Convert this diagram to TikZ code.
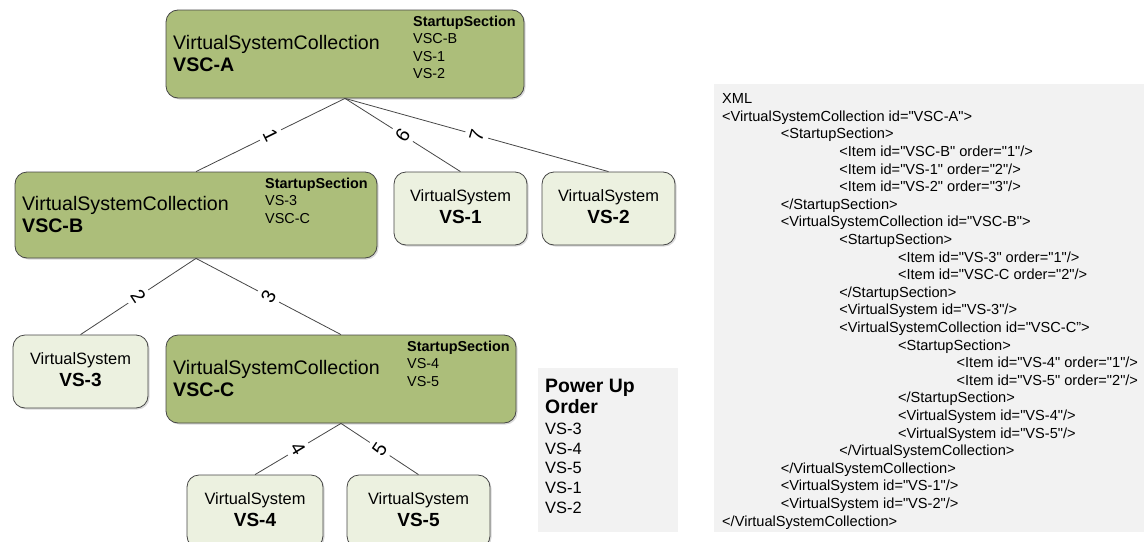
\documentclass[tikz,border=0pt]{standalone}
\usepackage{fontspec}
\setmainfont{Liberation Sans}
\newfontfamily\xmlfont{Liberation Sans}
\usetikzlibrary{shadows}
\definecolor{vscfill}{RGB}{172,190,122}
\definecolor{vsfill}{RGB}{236,241,224}
\definecolor{boxline}{RGB}{70,70,70}
\definecolor{notefill}{RGB}{242,242,242}
\tikzset{
    vsc/.style={draw=boxline, fill=vscfill, rounded corners=12pt, line width=0.8pt, inner sep=0pt,
        drop shadow={shadow xshift=1.5pt, shadow yshift=-1.5pt, opacity=0.3}},
    vs/.style={vsc, fill=vsfill},
    note/.style={fill=notefill, inner sep=0pt},
    link/.style={draw=boxline, line width=0.8pt},
    order/.style={fill=white, inner xsep=3pt, inner ysep=5pt, font=\fontsize{19.5}{19.5}\selectfont},
    vsctitle/.style={anchor=base west, inner sep=0pt, font=\fontsize{19.6}{22}\selectfont},
    vscname/.style={vsctitle, font=\fontsize{19.6}{22}\selectfont\bfseries},
    vstitle/.style={anchor=base, inner sep=0pt, font=\fontsize{16.4}{19}\selectfont},
    vsname/.style={anchor=base, inner sep=0pt, font=\fontsize{19}{22}\selectfont\bfseries},
    startitem/.style={anchor=base west, inner sep=0pt, font=\fontsize{14.4}{17}\selectfont},
    starthead/.style={startitem, font=\fontsize{14.4}{17}\selectfont\bfseries},
    listitem/.style={anchor=base west, inner sep=0pt, font=\fontsize{16.4}{19}\selectfont},
    xmlline/.style={anchor=base west, inner sep=0pt, font=\xmlfont\fontsize{14.6}{17}\selectfont}
}

\begin{document}
\begin{tikzpicture}[x=1pt, y=-1pt]
    \clip (0,0) rectangle (1147,541);

    % Collections
    \node[vsc, minimum width=358pt, minimum height=88pt] (vsca) at (345,54) {};
    \node[vsc, minimum width=362pt, minimum height=86pt] (vscb) at (196,215) {};
    \node[vsc, minimum width=350pt, minimum height=88pt] (vscc) at (341,379) {};
    % Virtual systems
    \node[vs, minimum width=133pt, minimum height=73pt] (vs1) at (460.5,208.5) {};
    \node[vs, minimum width=133pt, minimum height=73pt] (vs2) at (608.5,208.5) {};
    \node[vs, minimum width=135pt, minimum height=73pt] (vs3) at (80.5,371.5) {};
    \node[vs, minimum width=136pt, minimum height=73pt] (vs4) at (255,511.5) {};
    \node[vs, minimum width=143pt, minimum height=73pt] (vs5) at (418.5,511.5) {};

    % Connectors with start order
    \draw[link] (vsca.south) -- node[order, rotate=-63.7] (o1) {1} (vscb.north);
    \draw[link] (vsca.south) -- node[order, rotate=55.5] (o6) {6} (vs1.north);
    \draw[link] (vsca.south) -- node[order, rotate=73.7] (o7) {7} (vs2.north);
    \draw[link] (vscb.south) -- node[order, rotate=-56.4] (o2) {2} (vs3.north);
    \draw[link] (vscb.south) -- node[order, rotate=62] (o3) {3} (vscc.north);
    \draw[link] (vscc.south) -- node[order, rotate=-58.8] (o4) {4} (vs4.north);
    \draw[link] (vscc.south) -- node[order, rotate=56] (o5) {5} (vs5.north);

    % VSC-A text
    \node[vsctitle] (ta) at (173,49) {VirtualSystemCollection};
    \node[vscname] (na) at (173,71) {VSC-A};
    \node[starthead] (sa) at (413,26) {StartupSection};
    \node[startitem] (sa1) at (413,43.5) {VSC-B};
    \node[startitem] (sa2) at (413,61) {VS-1};
    \node[startitem] (sa3) at (413,78.5) {VS-2};
    % VSC-B text
    \node[vsctitle] (tb) at (22,210) {VirtualSystemCollection};
    \node[vscname] (nb) at (22,232) {VSC-B};
    \node[starthead] (sb) at (265,188) {StartupSection};
    \node[startitem] (sb1) at (265,205.5) {VS-3};
    \node[startitem] (sb2) at (265,223) {VSC-C};
    % VSC-C text
    \node[vsctitle] (tc) at (173,374) {VirtualSystemCollection};
    \node[vscname] (nc) at (173,396) {VSC-C};
    \node[starthead] (sc) at (407,351) {StartupSection};
    \node[startitem] (sc1) at (407,368.5) {VS-4};
    \node[startitem] (sc2) at (407,386) {VS-5};

    % Virtual system text
    \foreach \v/\n in {vs1/VS-1, vs2/VS-2, vs3/VS-3, vs4/VS-4, vs5/VS-5} {
        \node[vstitle] (\v t) at ([yshift=-30pt]\v.north) {VirtualSystem};
        \node[vsname] (\v n) at ([yshift=-52pt]\v.north) {\n};
    }

    % Power up order
    \node[note, minimum width=140pt, minimum height=164pt] (power) at (608,450) {};
    \node[listitem, font=\fontsize{19.4}{22}\selectfont\bfseries] (ph1) at (545,392) {Power Up};
    \node[listitem, font=\fontsize{19.4}{22}\selectfont\bfseries] (ph2) at (545,413) {Order};
    \foreach \n [count=\i] in {VS-3, VS-4, VS-5, VS-1, VS-2}
        \node[listitem] (p\i) at (545,{415+19.6*\i}) {\n};

    % XML listing
    \node[note, minimum width=430pt, minimum height=448pt] (xml) at (929,308) {};
    \foreach \l/\t [count=\i] in {
        0/XML,
        0/{<VirtualSystemCollection id="VSC-A">},
        1/{<StartupSection>},
        2/{<Item id="VSC-B" order="1"/>},
        2/{<Item id="VS-1" order="2"/>},
        2/{<Item id="VS-2" order="3"/>},
        1/{</StartupSection>},
        1/{<VirtualSystemCollection id="VSC-B">},
        2/{<StartupSection>},
        3/{<Item id="VS-3" order="1"/>},
        3/{<Item id="VSC-C order="2"/>},
        2/{</StartupSection>},
        2/{<VirtualSystem id="VS-3"/>},
        2/{<VirtualSystemCollection id="VSC-C”>},
        3/{<StartupSection>},
        4/{<Item id="VS-4" order="1"/>},
        4/{<Item id="VS-5" order="2"/>},
        3/{</StartupSection>},
        3/{<VirtualSystem id="VS-4"/>},
        3/{<VirtualSystem id="VS-5"/>},
        2/{</VirtualSystemCollection>},
        1/{</VirtualSystemCollection>},
        1/{<VirtualSystem id="VS-1"/>},
        1/{<VirtualSystem id="VS-2"/>},
        0/{</VirtualSystemCollection>}}
        \node[xmlline] (x\i) at ({722+58.6*\l},{86+17.6*\i}) {\t};
\end{tikzpicture}
\end{document}
